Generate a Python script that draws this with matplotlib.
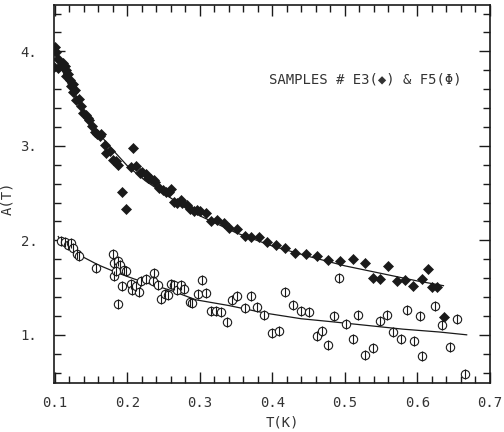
import matplotlib
matplotlib.use("Agg")
import matplotlib.pyplot as plt
from matplotlib.ticker import MultipleLocator, FuncFormatter

# Sample E3 (filled symbols)
e3_T = [0.101, 0.102, 0.105, 0.099, 0.105, 0.111, 0.114, 0.116, 0.118, 0.115, 0.121, 0.123,
        0.125, 0.128, 0.125, 0.130, 0.134, 0.137, 0.139, 0.143, 0.146, 0.148, 0.152, 0.155,
        0.158, 0.162, 0.164, 0.169, 0.171, 0.176, 0.180, 0.184, 0.187, 0.193, 0.198, 0.208,
        0.205, 0.212, 0.217, 0.221, 0.226, 0.228, 0.233, 0.237, 0.239, 0.244, 0.249, 0.253,
        0.258, 0.260, 0.265, 0.269, 0.274, 0.276, 0.283, 0.287, 0.292, 0.296, 0.301, 0.308,
        0.315, 0.324, 0.334, 0.340, 0.351, 0.362, 0.371, 0.382, 0.393, 0.405, 0.417, 0.431,
        0.446, 0.461, 0.477, 0.494, 0.511, 0.528, 0.539, 0.548, 0.560, 0.572, 0.583, 0.594,
        0.606, 0.614, 0.620, 0.627, 0.637]
e3_A = [4.05, 3.99, 3.92, 3.83, 3.82, 3.88, 3.84, 3.80, 3.76, 3.74, 3.70, 3.63,
        3.65, 3.59, 3.57, 3.49, 3.50, 3.42, 3.35, 3.33, 3.29, 3.27, 3.21, 3.15,
        3.13, 3.10, 3.12, 3.01, 2.92, 2.94, 2.85, 2.84, 2.80, 2.51, 2.33, 2.98,
        2.78, 2.79, 2.71, 2.72, 2.70, 2.66, 2.65, 2.64, 2.62, 2.55, 2.53, 2.51,
        2.51, 2.54, 2.41, 2.40, 2.43, 2.39, 2.37, 2.33, 2.31, 2.32, 2.31, 2.29,
        2.20, 2.22, 2.18, 2.13, 2.12, 2.05, 2.04, 2.04, 1.98, 1.95, 1.92, 1.87,
        1.86, 1.83, 1.79, 1.78, 1.80, 1.76, 1.60, 1.59, 1.73, 1.57, 1.58, 1.52,
        1.59, 1.70, 1.51, 1.51, 1.19]

# Sample F5 (open symbols)
f5_T = [0.109, 0.114, 0.118, 0.122, 0.125, 0.131, 0.133, 0.157, 0.180, 0.182, 0.187, 0.190,
        0.182, 0.185, 0.196, 0.198, 0.188, 0.193, 0.205, 0.207, 0.212, 0.216, 0.219, 0.226,
        0.235, 0.237, 0.243, 0.246, 0.252, 0.256, 0.260, 0.265, 0.269, 0.274, 0.279, 0.286,
        0.290, 0.297, 0.303, 0.308, 0.315, 0.322, 0.329, 0.337, 0.345, 0.352, 0.362, 0.371,
        0.379, 0.389, 0.400, 0.409, 0.418, 0.428, 0.439, 0.450, 0.461, 0.468, 0.477, 0.485,
        0.492, 0.502, 0.511, 0.518, 0.528, 0.539, 0.549, 0.558, 0.567, 0.577, 0.586, 0.596,
        0.604, 0.607, 0.625, 0.634, 0.645, 0.654, 0.666]
f5_A = [1.99, 1.98, 1.95, 1.97, 1.92, 1.86, 1.83, 1.71, 1.85, 1.76, 1.78, 1.74,
        1.62, 1.68, 1.69, 1.68, 1.33, 1.52, 1.54, 1.47, 1.52, 1.45, 1.57, 1.59,
        1.57, 1.65, 1.53, 1.38, 1.43, 1.42, 1.54, 1.53, 1.47, 1.53, 1.49, 1.35,
        1.34, 1.43, 1.58, 1.44, 1.25, 1.25, 1.24, 1.14, 1.37, 1.41, 1.28, 1.41,
        1.29, 1.21, 1.02, 1.04, 1.45, 1.32, 1.25, 1.24, 0.99, 1.04, 0.89, 1.20,
        1.60, 1.11, 0.96, 1.21, 0.79, 0.86, 1.15, 1.21, 1.03, 0.96, 1.26, 0.93,
        1.20, 0.78, 1.31, 1.10, 0.87, 1.17, 0.59]

# Fitted curves
fit_e3_T = [0.100, 0.110, 0.120, 0.130, 0.140, 0.150, 0.175, 0.200, 0.225, 0.250, 0.275,
            0.300, 0.350, 0.400, 0.450, 0.500, 0.550, 0.600, 0.636]
fit_e3_A = [4.00, 3.81, 3.63, 3.49, 3.36, 3.24, 3.00, 2.79, 2.63, 2.50, 2.37,
            2.26, 2.08, 1.94, 1.83, 1.73, 1.65, 1.57, 1.52]
fit_f5_T = [0.105, 0.110, 0.120, 0.130, 0.140, 0.160, 0.185, 0.210, 0.235, 0.260, 0.295,
            0.340, 0.390, 0.440, 0.480, 0.530, 0.580, 0.630, 0.668]
fit_f5_A = [2.04, 1.97, 1.91, 1.87, 1.82, 1.74, 1.66, 1.59, 1.53, 1.47, 1.37,
            1.31, 1.23, 1.17, 1.14, 1.10, 1.06, 1.03, 1.00]

x_major = [0.1, 0.2, 0.3, 0.4, 0.5, 0.6, 0.7]
y_major = [1, 2, 3, 4]
legend_text = "SAMPLES # E3(\u25c6) & F5(\u03a6)"

ink = "#1a1a1a"
font = "DejaVu Sans Mono"

fig = plt.figure(figsize=(5.04, 4.32), dpi=100)
ax = fig.add_axes([0.107, 0.1134, 0.865, 0.875])

ax.plot(fit_e3_T, fit_e3_A, color=ink, lw=0.9, zorder=2)
ax.plot(fit_f5_T, fit_f5_A, color=ink, lw=0.9, zorder=2)

ax.plot(e3_T, e3_A, linestyle="none", marker="D", markersize=5.5, color=ink,
        markeredgewidth=0.5, zorder=3)
ax.plot(f5_T, f5_A, linestyle="none", marker="o", markersize=6, markerfacecolor="white",
        markeredgecolor=ink, markeredgewidth=0.8, zorder=3)
ax.plot(f5_T, f5_A, linestyle="none", marker="|", markersize=7, color=ink,
        markeredgewidth=0.8, zorder=4)

ax.set_xlim(0.099, 0.698)
ax.set_ylim(0.49, 4.49)

ax.set_xticks(x_major)
ax.xaxis.set_minor_locator(MultipleLocator(0.02))
ax.set_yticks(y_major)
ax.yaxis.set_minor_locator(MultipleLocator(0.2))
ax.xaxis.set_major_formatter(FuncFormatter(lambda v, p: f"{v:.1f}"))
ax.yaxis.set_major_formatter(FuncFormatter(lambda v, p: f"{int(round(v))}."))

ax.tick_params(which="both", direction="in", top=True, right=True, color=ink, width=1.0)
ax.tick_params(which="major", length=8)
ax.tick_params(which="minor", length=5)
ax.tick_params(axis="x", which="major", pad=9, labelsize=10, labelcolor="#333333")
ax.tick_params(axis="y", which="major", pad=12, labelsize=10, labelcolor="#333333")
for lbl in ax.get_xticklabels() + ax.get_yticklabels():
    lbl.set_fontfamily(font)

for sp in ax.spines.values():
    sp.set_linewidth(1.2)
    sp.set_color(ink)

ax.set_xlabel("T(K)", fontfamily=font, fontsize=10, color="#333333")
ax.xaxis.set_label_coords(0.523, -0.087)
ax.set_ylabel("A(T)", fontfamily=font, fontsize=10, color="#333333")
ax.yaxis.set_label_coords(-0.09, 0.49)

ax.text(0.528, 3.70, legend_text, fontfamily=["DejaVu Sans Mono", "DejaVu Sans"],
        fontsize=10, color="#333333", ha="center", va="center")

fig.savefig("out.png", dpi=100)
